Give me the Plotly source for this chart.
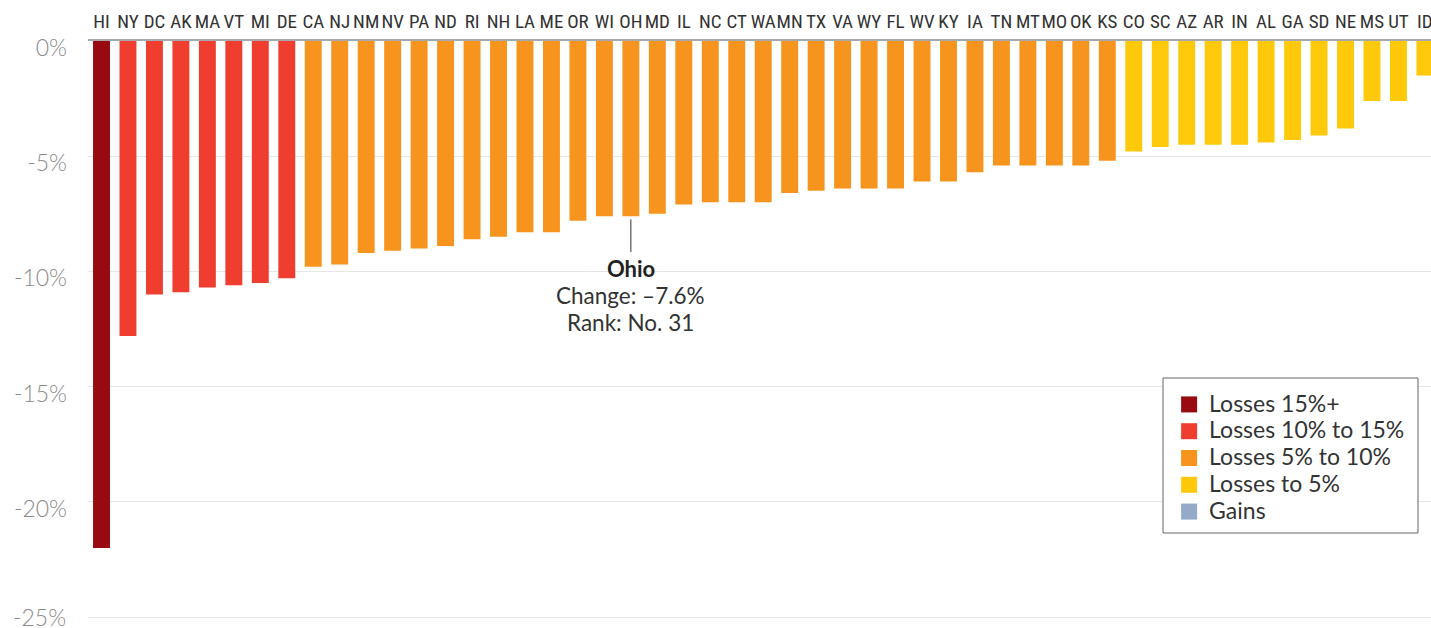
import plotly.graph_objects as go

states = ["HI","NY","DC","AK","MA","VT","MI","DE","CA","NJ","NM","NV","PA","ND","RI","NH","LA","ME",
          "OR","WI","OH","MD","IL","NC","CT","WA","MN","TX","VA","WY","FL","WV","KY","IA","TN","MT",
          "MO","OK","KS","CO","SC","AZ","AR","IN","AL","GA","SD","NE","MS","UT","ID"]
change = [-22.0,-12.8,-11.0,-10.9,-10.7,-10.6,-10.5,-10.3,-9.8,-9.7,-9.2,-9.1,-9.0,-8.9,-8.6,-8.5,-8.3,-8.3,
          -7.8,-7.6,-7.6,-7.5,-7.1,-7.0,-7.0,-7.0,-6.6,-6.5,-6.4,-6.4,-6.4,-6.1,-6.1,-5.7,-5.4,-5.4,
          -5.4,-5.4,-5.2,-4.8,-4.6,-4.5,-4.5,-4.5,-4.4,-4.3,-4.1,-3.8,-2.6,-2.6,-1.5]

bin_names = ["Losses 15%+", "Losses 10% to 15%", "Losses 5% to 10%", "Losses to 5%", "Gains"]
bin_colors = ["#990a10", "#ef3e2f", "#f7941e", "#fec90b", "#94aac8"]
y_ticks = [0, -5, -10, -15, -20, -25]
y_tick_text = ["0%", "-5%", "-10%", "-15%", "-20%", "-25%"]

highlight = "OH"
highlight_name = "Ohio"


def color_for(v):
    if v <= -15:
        return bin_colors[0]
    if v <= -10:
        return bin_colors[1]
    if v <= -5:
        return bin_colors[2]
    if v < 0:
        return bin_colors[3]
    return bin_colors[4]


fig = go.Figure()
fig.add_trace(go.Bar(x=states, y=change, marker=dict(color=[color_for(v) for v in change], line=dict(width=0)),
                     width=0.64, showlegend=False, hoverinfo="x+y"))

for name, col in zip(bin_names, bin_colors):
    fig.add_trace(go.Scatter(x=[None], y=[None], mode="markers",
                             name='<span style="font-size:23px">%s</span>' % name,
                             marker=dict(symbol="square", size=16, color=col)))

idx = states.index(highlight)
val = change[idx]
rank = len(states) - idx

fig.add_shape(type="line", xref="x", yref="y", x0=highlight, x1=highlight, y0=val - 0.14, y1=val - 1.56,
              line=dict(color="#333333", width=1))
txt_font = dict(family="Lato, sans-serif", size=22.5, color="#333333")
fig.add_annotation(x=highlight, y=val - 2.27, xref="x", yref="y", text="<b>%s</b>" % highlight_name,
                   showarrow=False, font=dict(family="Lato, sans-serif", size=22, color="#222222", weight=900))
fig.add_annotation(x=highlight, y=val - 3.44, xref="x", yref="y", text="Change: \u2013%.1f%%" % abs(val),
                   showarrow=False, font=txt_font)
fig.add_annotation(x=highlight, y=val - 4.6, xref="x", yref="y", text="Rank: No. %d" % rank,
                   showarrow=False, font=txt_font)

# legend frame
fig.add_shape(type="rect", xref="paper", yref="paper", x0=0.80045, x1=0.99032, y0=0.15609, y1=0.42196,
              line=dict(color="#666666", width=1), fillcolor="white", layer="above")

ytick_font = dict(family="Lato, sans-serif", size=23, color="#8a8a8a", weight=300)
# the lowest tick label sits nudged up so it stays inside the page
shown_text = y_tick_text[:-1] + [""]
fig.add_annotation(x=0, y=y_ticks[-1], xref="paper", yref="y", text=y_tick_text[-1], showarrow=False,
                   xanchor="right", yanchor="middle", xshift=-20, yshift=0, font=ytick_font)

fig.update_layout(
    width=1431, height=628,
    margin=dict(l=88, r=0, t=41, b=4, pad=0),
    paper_bgcolor="white", plot_bgcolor="white",
    xaxis=dict(side="top", categoryorder="array", categoryarray=states, range=[-0.51, 50.23],
               showgrid=False, showline=True, linecolor="#a7a9ac", linewidth=2, automargin=False,
               tickangle=0,
               tickfont=dict(family="Liberation Sans Narrow, Roboto Condensed, DejaVu Sans Condensed, sans-serif",
                             size=19, color="#333333"),
               ticks="", ticklabelstandoff=3),
    yaxis=dict(range=[-25.3, 0], tickvals=y_ticks, ticktext=shown_text, showgrid=True, automargin=False,
               gridcolor="#e6e6e6", gridwidth=1, zeroline=False, showline=False, ticks="",
               tickfont=ytick_font,
               ticklabelstandoff=20, ticklabelshift=7, ticklabeloverflow="allow"),
    legend=dict(x=0.805, xanchor="left", y=0.4082, yanchor="top", borderwidth=0,
                bgcolor="rgba(0,0,0,0)", font=dict(family="Lato, sans-serif", size=18.3, color="#333333"),
                itemsizing="trace", tracegroupgap=0),
    showlegend=True,
)

fig.write_html("out.html", config={"displayModeBar": False},
               post_script="document.body.style.margin='0';")
